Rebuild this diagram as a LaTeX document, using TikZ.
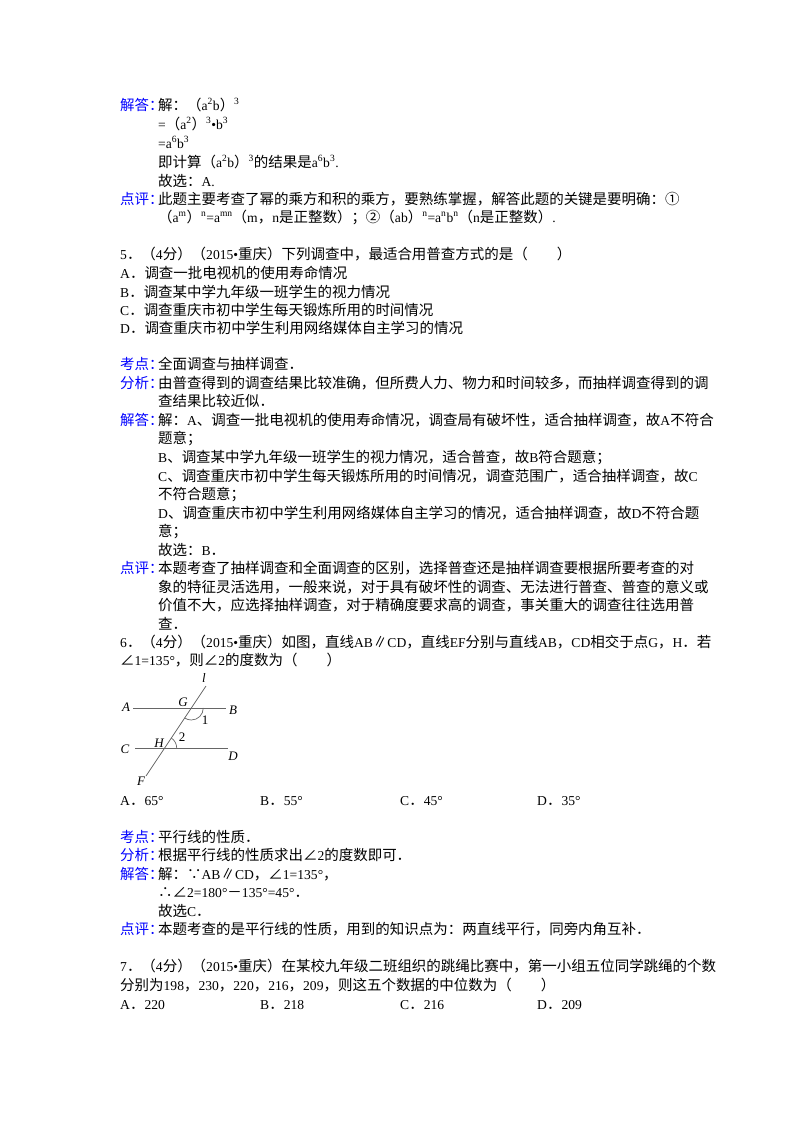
\documentclass[tikz,border=0pt]{standalone}
\usepackage{fontspec}
\setmainfont{Liberation Serif}
\newfontfamily\cjk[Scale=1.065]{Noto Sans CJK SC}
\newcommand\latn{\rmfamily}
\XeTeXinterchartokenstate=1
\newXeTeXintercharclass\CJKcls
\newcount\cc
\def\setcls#1#2{\cc=#1 \loop \XeTeXcharclass\cc=\CJKcls \ifnum\cc<#2 \advance\cc 1 \repeat}
\setcls{"4E00}{"9FFF}
\setcls{"3000}{"303F}
\setcls{"FF00}{"FFEF}
\setcls{"2460}{"2473}
\XeTeXcharclass"2220=\CJKcls
\XeTeXcharclass"2225=\CJKcls
\XeTeXcharclass"2234=\CJKcls
\XeTeXcharclass"2235=\CJKcls
\XeTeXinterchartoks 0 \CJKcls = {\cjk}
\XeTeXinterchartoks 4095 \CJKcls = {\cjk}
\XeTeXinterchartoks \CJKcls 0 = {\latn}
\XeTeXinterchartoks \CJKcls 4095 = {\latn}
\newcommand\su[1]{\textsuperscript{#1}}
\begin{document}
\begin{tikzpicture}[x=1pt,y=-1pt,
  t/.style={anchor=base west,inner sep=0pt,font=\fontsize{13.6}{16}\selectfont},
  lb/.style={t,text=blue},
  fl/.style={inner sep=0pt,font=\fontsize{13}{15}\selectfont\itshape}]
\useasboundingbox[fill=white] (0,0) rectangle (800,1132);
\node[lb] (l1) at (120,110) {解答：};
\node[t] at (158,110) {解：（a\su{2}b）\su{3}};
\node[t] at (158,129) {=（a\su{2}）\su{3}•b\su{3}};
\node[t] at (158,148) {=a\su{6}b\su{3}};
\node[t] at (158,167) {即计算（a\su{2}b）\su{3}的结果是a\su{6}b\su{3}.};
\node[t] at (158,186) {故选：A.};
\node[lb] at (120,204) {点评：};
\node[t] at (158,204) {此题主要考查了幂的乘方和积的乘方，要熟练掌握，解答此题的关键是要明确：①};
\node[t] at (158,222) {（a\su{m}）\su{n}=a\su{mn}（m，n是正整数）；②（ab）\su{n}=a\su{n}b\su{n}（n是正整数）.};

\node[t] at (120,259) {5．（4分）（2015•重庆）下列调查中，最适合用普查方式的是（　　）};
\node[t] at (120,278) {A．调查一批电视机的使用寿命情况};
\node[t] at (120,297) {B．调查某中学九年级一班学生的视力情况};
\node[t] at (120,315) {C．调查重庆市初中学生每天锻炼所用的时间情况};
\node[t] at (120,333) {D．调查重庆市初中学生利用网络媒体自主学习的情况};

\node[lb] at (120,369) {考点：};
\node[t] at (158,369) {全面调查与抽样调查．};
\node[lb] at (120,388) {分析：};
\node[t] at (158,388) {由普查得到的调查结果比较准确，但所费人力、物力和时间较多，而抽样调查得到的调};
\node[t] at (158,406) {查结果比较近似．};
\node[lb] at (120,425) {解答：};
\node[t] at (158,425) {解：A、调查一批电视机的使用寿命情况，调查局有破坏性，适合抽样调查，故A不符合};
\node[t] at (158,443) {题意；};
\node[t] at (158,462) {B、调查某中学九年级一班学生的视力情况，适合普查，故B符合题意；};
\node[t] at (158,481) {C、调查重庆市初中学生每天锻炼所用的时间情况，调查范围广，适合抽样调查，故C};
\node[t] at (158,499) {不符合题意；};
\node[t] at (158,518) {D、调查重庆市初中学生利用网络媒体自主学习的情况，适合抽样调查，故D不符合题};
\node[t] at (158,536) {意；};
\node[t] at (158,555) {故选：B．};
\node[lb] at (120,573) {点评：};
\node[t] at (158,573) {本题考查了抽样调查和全面调查的区别，选择普查还是抽样调查要根据所要考查的对};
\node[t] at (158,592) {象的特征灵活选用，一般来说，对于具有破坏性的调查、无法进行普查、普查的意义或};
\node[t] at (158,610) {价值不大，应选择抽样调查，对于精确度要求高的调查，事关重大的调查往往选用普};
\node[t] at (158,629) {查．};

\node[t] at (120,647) {6．（4分）（2015•重庆）如图，直线AB∥CD，直线EF分别与直线AB，CD相交于点G，H．若};
\node[t] at (120,665) {∠1=135°，则∠2的度数为（　　）};

% figure
\coordinate (A1) at (133,708); \coordinate (B1) at (226,708);
\coordinate (C1) at (135,748); \coordinate (D1) at (228,748);
\coordinate (Lt) at (206,686); \coordinate (Fb) at (146,776);
\coordinate (G) at (191.3,708); \coordinate (H) at (164.7,748);
\draw[gray!80!black,line width=0.8pt] (A1) -- (B1);
\draw[gray!80!black,line width=0.8pt] (C1) -- (D1);
\draw[gray!80!black,line width=0.8pt] (Lt) -- (Fb);
\draw[gray!80!black,line width=0.7pt] ([shift={(12,0)}]G) arc[start angle=0,end angle=124,radius=12];
\draw[gray!80!black,line width=0.7pt] ([shift={(12,0)}]H) arc[start angle=0,end angle=-56,radius=12];
\node[fl] (lA) at (126,707) {A};
\node[fl] (lB) at (233,710) {B};
\node[fl] (lC) at (125,749) {C};
\node[fl] (lD) at (233,756) {D};
\node[fl] (ll) at (204,678) {l};
\node[fl] (lG) at (183,702) {G};
\node[fl,font=\fontsize{13}{15}\selectfont] (l1n) at (205,720) {1};
\node[fl] (lH) at (159,743) {H};
\node[fl,font=\fontsize{13}{15}\selectfont] (l2n) at (182,737) {2};
\node[fl] (lF) at (141,781) {F};

\node[t] at (120,805) {A．65°};
\node[t] at (260,805) {B．55°};
\node[t] at (400,805) {C．45°};
\node[t] at (537,805) {D．35°};

\node[lb] at (120,842) {考点：};
\node[t] at (158,842) {平行线的性质．};
\node[lb] at (120,860) {分析：};
\node[t] at (158,860) {根据平行线的性质求出∠2的度数即可．};
\node[lb] at (120,879) {解答：};
\node[t] at (158,879) {解：∵AB∥CD，∠1=135°，};
\node[t] at (158,897) {∴∠2=180°－135°=45°．};
\node[t] at (158,916) {故选C．};
\node[lb] at (120,934) {点评：};
\node[t] at (158,934) {本题考查的是平行线的性质，用到的知识点为：两直线平行，同旁内角互补．};

\node[t] at (120,971) {7．（4分）（2015•重庆）在某校九年级二班组织的跳绳比赛中，第一小组五位同学跳绳的个数};
\node[t] at (120,990) {分别为198，230，220，216，209，则这五个数据的中位数为（　　）};
\node[t] at (120,1009) {A．220};
\node[t] at (260,1009) {B．218};
\node[t] at (400,1009) {C．216};
\node[t] at (537,1009) {D．209};
\end{tikzpicture}
\end{document}
